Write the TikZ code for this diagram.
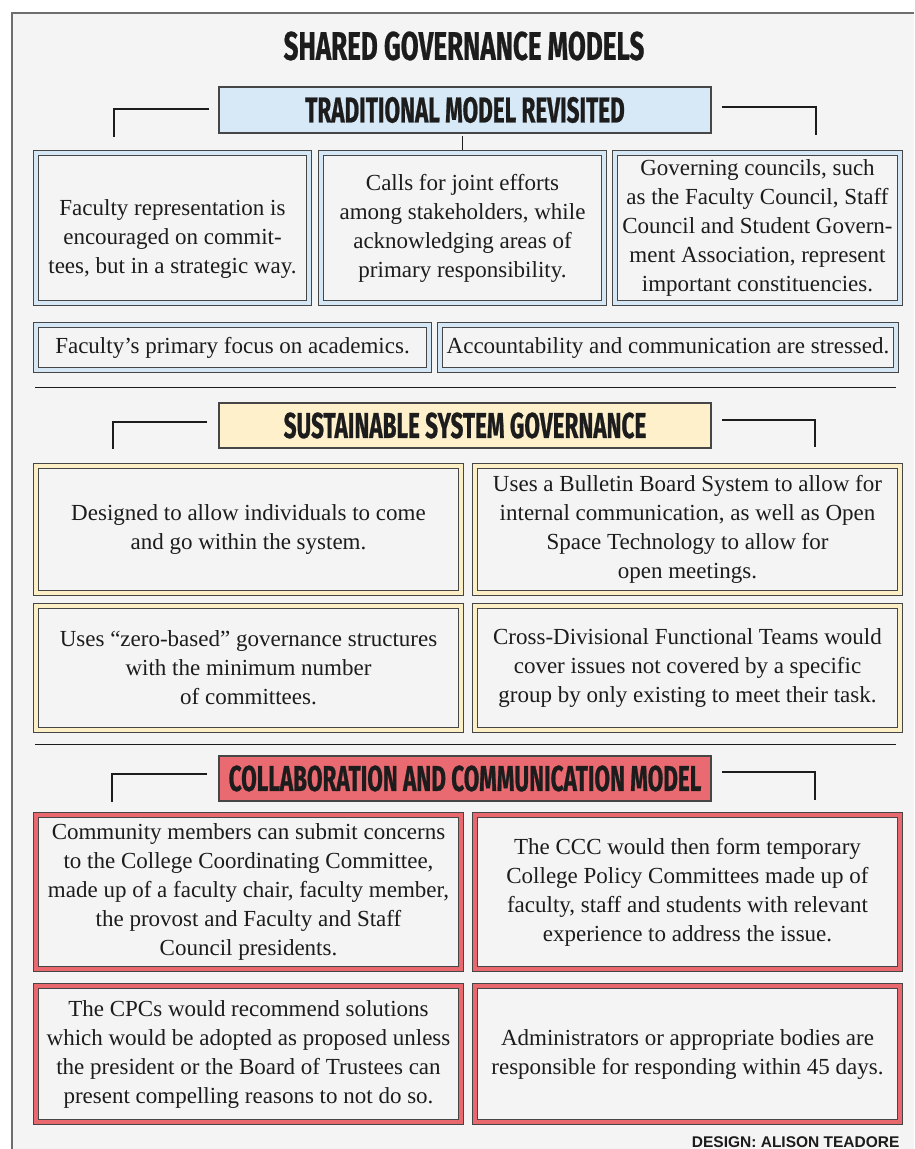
\documentclass[tikz,border=0pt]{standalone}
\usepackage{fontspec}
\setmainfont{Liberation Serif}
\newfontfamily\headfont{Fira Sans}[FakeStretch=0.625,FakeBold=0.6]
\newfontfamily\titlefont{Fira Sans}[FakeStretch=0.65,FakeBold=0.6]
\newfontfamily\creditfont{Liberation Sans}
\usepackage{tikz}
\usetikzlibrary{positioning}
\usepackage{xcolor}
\definecolor{paperbg}{RGB}{244,244,244}
\definecolor{framegray}{RGB}{110,110,110}
\definecolor{inkdark}{RGB}{28,28,28}
\definecolor{boxline}{RGB}{70,70,70}
\definecolor{blueband}{RGB}{213,230,245}
\definecolor{bluehead}{RGB}{215,232,246}
\definecolor{yellowband}{RGB}{252,239,198}
\definecolor{yellowhead}{RGB}{253,240,203}
\definecolor{redband}{RGB}{232,104,109}
\definecolor{redhead}{RGB}{233,106,112}
\newcommand\bodysize{\fontsize{23}{29}\selectfont}

\begin{document}
\begin{tikzpicture}[x=1pt,y=-1pt,
  infobox/.style={draw=boxline,line width=0.9pt,double distance=4pt,fill=paperbg,
    inner sep=0pt,outer sep=0pt,align=center,text=inkdark,font=\bodysize},
  blueinfo/.style={infobox,double=blueband},
  yellowinfo/.style={infobox,double=yellowband},
  redinfo/.style={infobox,double=redband},
  headbox/.style={draw=boxline,line width=1.3pt,inner sep=0pt,outer sep=0pt,
    minimum width=492pt,minimum height=46pt,text=inkdark,
    font=\headfont\bfseries\fontsize{36}{36}\selectfont},
  bracket/.style={draw=inkdark,line width=1.8pt},
  rule/.style={draw=inkdark,line width=0.9pt}]
\useasboundingbox (0,0) rectangle (914,1149);
\fill[white] (0,0) rectangle (914,1149);
\fill[paperbg] (12,13) rectangle (914,1149);
\draw[framegray,line width=1.4pt] (12,1149) -- (12,13) -- (914,13);

\node[text=inkdark,font=\titlefont\bfseries\fontsize{40}{40}\selectfont] (title) at (464,46) {SHARED GOVERNANCE MODELS};

\node[headbox,fill=bluehead] (hdA) at (465,110) {TRADITIONAL MODEL REVISITED};
\draw[bracket] ([xshift=-10pt,yshift=1pt]hdA.west) -| ++(-95,28);
\draw[bracket] ([xshift=11pt,yshift=3pt]hdA.east) -| ++(94,28);
\node[blueinfo,minimum width=273pt,minimum height=150pt] (tA1) at (172.5,228) {\rule{0pt}{38pt}Faculty representation is\\encouraged on commit-\\tees, but in a strategic way.};
\node[blueinfo,minimum width=283pt,minimum height=150pt] (tA2) at (462.5,228) {Calls for joint efforts\\among stakeholders, while\\acknowledging areas of\\primary responsibility.};
\node[blueinfo,minimum width=285pt,minimum height=150pt] (tA3) at (757.5,228) {Governing councils, such\\as the Faculty Council, Staff\\Council and Student Govern-\\ment Association, represent\\important constituencies.};
\node[blueinfo,minimum width=393pt,minimum height=45pt] (tA4) at (232.5,347.5) {Faculty’s primary focus on academics.};
\node[blueinfo,minimum width=456pt,minimum height=45pt] (tA5) at (668,347.5) {Accountability and communication are stressed.};
\draw[bracket] ([yshift=-3pt]hdA.south -| tA2.north) -- ([yshift=3pt]tA2.north);
\draw[rule] (35,387) -- (896,387);

\node[headbox,fill=yellowhead,minimum height=45pt] (hdB) at (465,425.5) {SUSTAINABLE SYSTEM GOVERNANCE};
\draw[bracket] ([xshift=-12pt,yshift=3.5pt]hdB.west) -| ++(-94,27);
\draw[bracket] ([xshift=11pt,yshift=5.5pt]hdB.east) -| ++(93,27);
\node[yellowinfo,minimum width=425pt,minimum height=127pt] (tB1) at (248.5,529.5) {Designed to allow individuals to come\\and go within the system.};
\node[yellowinfo,minimum width=425pt,minimum height=127pt] (tB2) at (687.5,529.5) {Uses a Bulletin Board System to allow for\\internal communication, as well as Open\\Space Technology to allow for\\open meetings.};
\node[yellowinfo,minimum width=425pt,minimum height=124pt] (tB3) at (248.5,668) {Uses “zero-based” governance structures\\with the minimum number\\of committees.};
\node[yellowinfo,minimum width=425pt,minimum height=124pt] (tB4) at (687.5,668) {Cross-Divisional Functional Teams would\\cover issues not covered by a specific\\group by only existing to meet their task.};
\draw[rule] (35,744) -- (896,744);

\node[headbox,fill=redhead,minimum height=45pt] (hdC) at (465,778.5) {COLLABORATION AND COMMUNICATION MODEL};
\draw[bracket] ([xshift=-12pt,yshift=4.5pt]hdC.west) -| ++(-95,28);
\draw[bracket] ([xshift=11pt,yshift=6.5pt]hdC.east) -| ++(93,28);
\node[redinfo,minimum width=425pt,minimum height=154pt] (tC1) at (248.5,892) {Community members can submit concerns\\to the College Coordinating Committee,\\made up of a faculty chair, faculty member,\\the provost and Faculty and Staff\\Council presidents.};
\node[redinfo,minimum width=425pt,minimum height=154pt] (tC2) at (687.5,892) {The CCC would then form temporary\\College Policy Committees made up of\\faculty, staff and students with relevant\\experience to address the issue.};
\node[redinfo,minimum width=425pt,minimum height=136pt] (tC3) at (248.5,1054) {The CPCs would recommend solutions\\which would be adopted as proposed unless\\the president or the Board of Trustees can\\present compelling reasons to not do so.};
\node[redinfo,minimum width=425pt,minimum height=136pt] (tC4) at (687.5,1054) {Administrators or appropriate bodies are\\responsible for responding within 45 days.};

\node[anchor=base east,text=inkdark,font=\creditfont\bfseries\fontsize{15.5}{16}\selectfont] (credit) at (903,1147) {DESIGN: ALISON TEADORE};
\end{tikzpicture}
\end{document}
